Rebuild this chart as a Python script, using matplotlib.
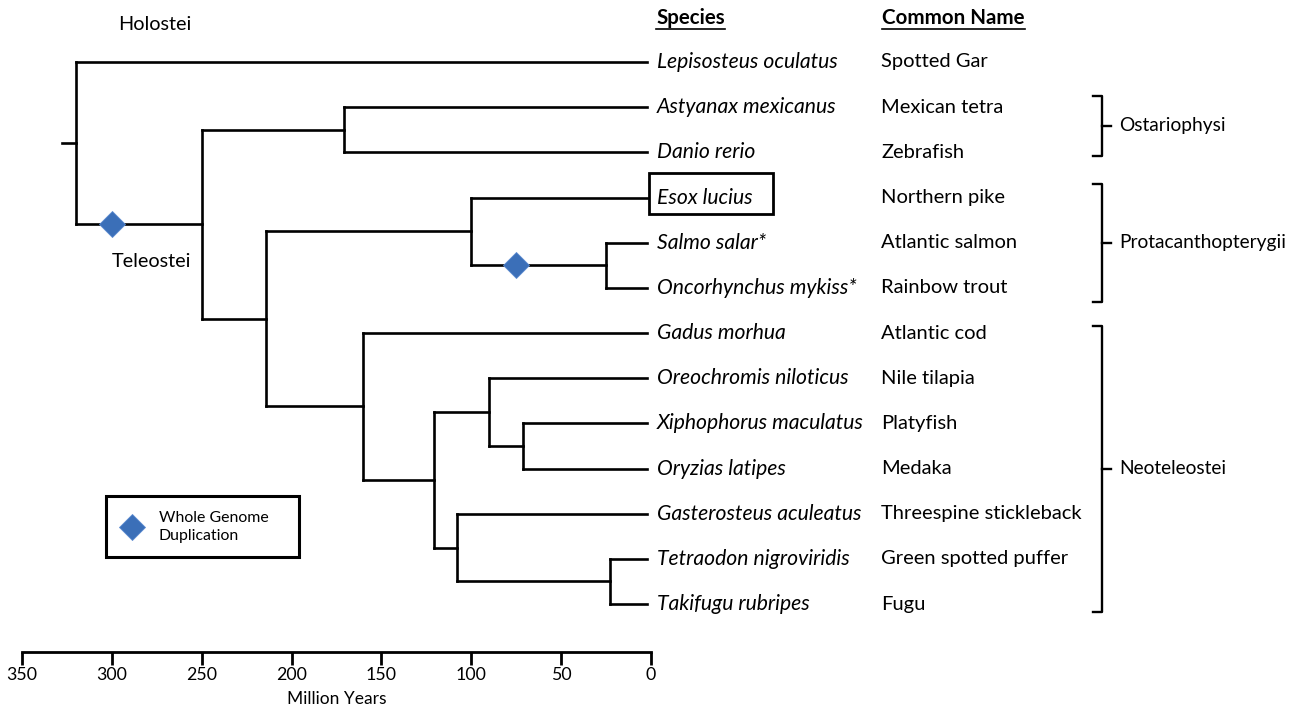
import matplotlib
matplotlib.use("Agg")
import matplotlib.pyplot as plt
from matplotlib.lines import Line2D
from matplotlib.patches import Rectangle

plt.rcParams["font.family"] = ["Lato", "DejaVu Sans"]

# ---------------------------------------------------------------- data
species = [
    "Lepisosteus oculatus", "Astyanax mexicanus", "Danio rerio", "Esox lucius",
    "Salmo salar*", "Oncorhynchus mykiss*", "Gadus morhua",
    "Oreochromis niloticus", "Xiphophorus maculatus", "Oryzias latipes",
    "Gasterosteus aculeatus", "Tetraodon nigroviridis", "Takifugu rubripes",
]
common_names = [
    "Spotted Gar", "Mexican tetra", "Zebrafish", "Northern pike",
    "Atlantic salmon", "Rainbow trout", "Atlantic cod", "Nile tilapia",
    "Platyfish", "Medaka", "Threespine stickleback", "Green spotted puffer",
    "Fugu",
]

# internal nodes: name, divergence age in Myr, and the two children
# (species indices or other node names)
clade_names = ["Neopterygii", "Teleostei", "Ostariophysi", "Euteleostei",
               "Protacanthopterygii", "Salmonidae", "Neoteleostei",
               "Percomorpha", "Ovalentaria", "Atherinomorpha",
               "Eupercaria", "Tetraodontidae"]
clade_ages = [320, 250, 171, 214, 100, 25, 160, 121, 90, 71, 108, 23]
clade_children = [(0, "Teleostei"), ("Ostariophysi", "Euteleostei"), (1, 2),
                  ("Protacanthopterygii", "Neoteleostei"), (3, "Salmonidae"),
                  (4, 5), (6, "Percomorpha"), ("Ovalentaria", "Eupercaria"),
                  (7, "Atherinomorpha"), (8, 9), (10, "Tetraodontidae"),
                  (11, 12)]
root_age = 328

# whole genome duplication events: branch leading to clade, age in Myr
wgd_clades = ["Teleostei", "Salmonidae"]
wgd_ages = [300, 75]

# bracketed groups: label, first species, last species
group_labels = ["Ostariophysi", "Protacanthopterygii", "Neoteleostei"]
group_first = [1, 3, 6]
group_last = [2, 5, 12]

time_ticks = [0, 50, 100, 150, 200, 250, 300, 350]

# ---------------------------------------------------------------- layout
W, H, DPI = 1310, 708, 100
PX_PER_MY = 1.797      # horizontal scale
X_ZERO = 651           # pixel column of 0 Myr
ROW0, ROW_H = 62, 45.17

def dx(px):
    return (X_ZERO - px) / PX_PER_MY

def dy(py):
    return (py - ROW0) / ROW_H

fig = plt.figure(figsize=(W / DPI, H / DPI), dpi=DPI)
ax = fig.add_axes([0, 0, 1, 1])
ax.set_xlim(dx(0), dx(W))
ax.set_ylim(dy(H), dy(0))

LW = 1.9
BLUE = "#3B6FB8"
EDGE = "#5A8AD0"
TIP_END = 2.5
FS_SP = 15.2
FS_CN = 14.5
FS = 13.8

line_kw = dict(color="black", lw=LW, solid_capstyle="projecting")

nodes = {n: (a, c) for n, a, c in zip(clade_names, clade_ages, clade_children)}
node_y = {}

def draw(node):
    """Draw the subtree under `node`, return its vertical position."""
    if isinstance(node, int):
        return node
    age, kids = nodes[node]
    ys = []
    for k in kids:
        yk = draw(k)
        end = TIP_END if isinstance(k, int) else nodes[k][0]
        ax.plot([age, end], [yk, yk], **line_kw)
        ys.append(yk)
    ax.plot([age, age], [ys[0], ys[-1]], **line_kw)
    y = (ys[0] + ys[-1]) / 2
    node_y[node] = y
    return y

root_y = draw("Neopterygii")
ax.plot([root_age, clade_ages[0]], [root_y, root_y], **line_kw)

# whole genome duplication markers
for clade, age in zip(wgd_clades, wgd_ages):
    ax.plot(age, node_y[clade], marker="D", ms=13.5, color=BLUE,
            mec=EDGE, mew=0.6, zorder=5, ls="none")

# species and common names
for i, (sp, cn) in enumerate(zip(species, common_names)):
    ax.text(dx(657), i, sp, style="italic", fontsize=FS_SP, va="center",
            ha="left")
    ax.text(dx(881), i, cn, fontsize=FS_CN, va="center", ha="left")

# box round the pike
ax.add_patch(Rectangle((dx(649), dy(173)), dx(773) - dx(649), dy(214) - dy(173),
                       fill=False, ec="black", lw=2))

# column headers
h1 = ax.text(dx(656), dy(18), "Species", fontsize=14.8, fontweight="bold",
             va="center", ha="left")
h2 = ax.text(dx(882), dy(18), "Common Name", fontsize=14.8, fontweight="bold",
             va="center", ha="left")

# clade labels on the tree
ax.text(dx(118), dy(25), "Holostei", fontsize=14.3, va="center", ha="left")
ax.text(dx(112), dy(262), "Teleostei", fontsize=14.3, va="center", ha="left")

# group brackets
bx_in, bx, bx_tick = dx(1093), dx(1102), dx(1111)
pad_top = [0.24, 0.31, 0.16]
pad_bot = [0.07, 0.32, 0.18]
for lab, a, b, pt, pb in zip(group_labels, group_first, group_last,
                             pad_top, pad_bot):
    top, bot = a - pt, b + pb
    mid = (top + bot) / 2
    ax.plot([bx_in, bx, bx, bx_in], [top, top, bot, bot], color="black",
            lw=1.7, solid_joinstyle="round")
    ax.plot([bx, bx_tick], [mid, mid], color="black", lw=1.7)
    ax.text(dx(1119), mid, lab, fontsize=FS, va="center", ha="left")

# time axis
for s in ("left", "right", "top"):
    ax.spines[s].set_visible(False)
ax.spines["bottom"].set_position(("data", dy(652)))
ax.spines["bottom"].set_bounds(0, 350)
ax.spines["bottom"].set_linewidth(2)
ax.set_xticks(time_ticks)
ax.set_xticklabels([str(t) for t in time_ticks])
ax.tick_params(axis="x", direction="out", length=9, width=2, labelsize=12.8,
               pad=2)
ax.set_yticks([])
ax.text(175, dy(699), "Million Years", fontsize=12.5, ha="center",
        va="center")

# legend box
ax.add_patch(Rectangle((dx(106), dy(496)), dx(299) - dx(106),
                       dy(557) - dy(496), fill=False, ec="black", lw=2.2))
ax.plot(dx(132), dy(527), marker="D", ms=13, color=BLUE, mec=EDGE, mew=0.6,
        ls="none")
ax.text(dx(159), dy(527), "Whole Genome\nDuplication", fontsize=11.4,
        va="center", ha="left", linespacing=1.45)

# underline the headers
fig.canvas.draw()
rend = fig.canvas.get_renderer()
for h in (h1, h2):
    bb = h.get_window_extent(rend)
    y = (bb.y0 - 1) / H
    fig.add_artist(Line2D([bb.x0 / W, bb.x1 / W], [y, y], color="black",
                          lw=1.2, transform=fig.transFigure))

fig.savefig("out.png", dpi=DPI)
